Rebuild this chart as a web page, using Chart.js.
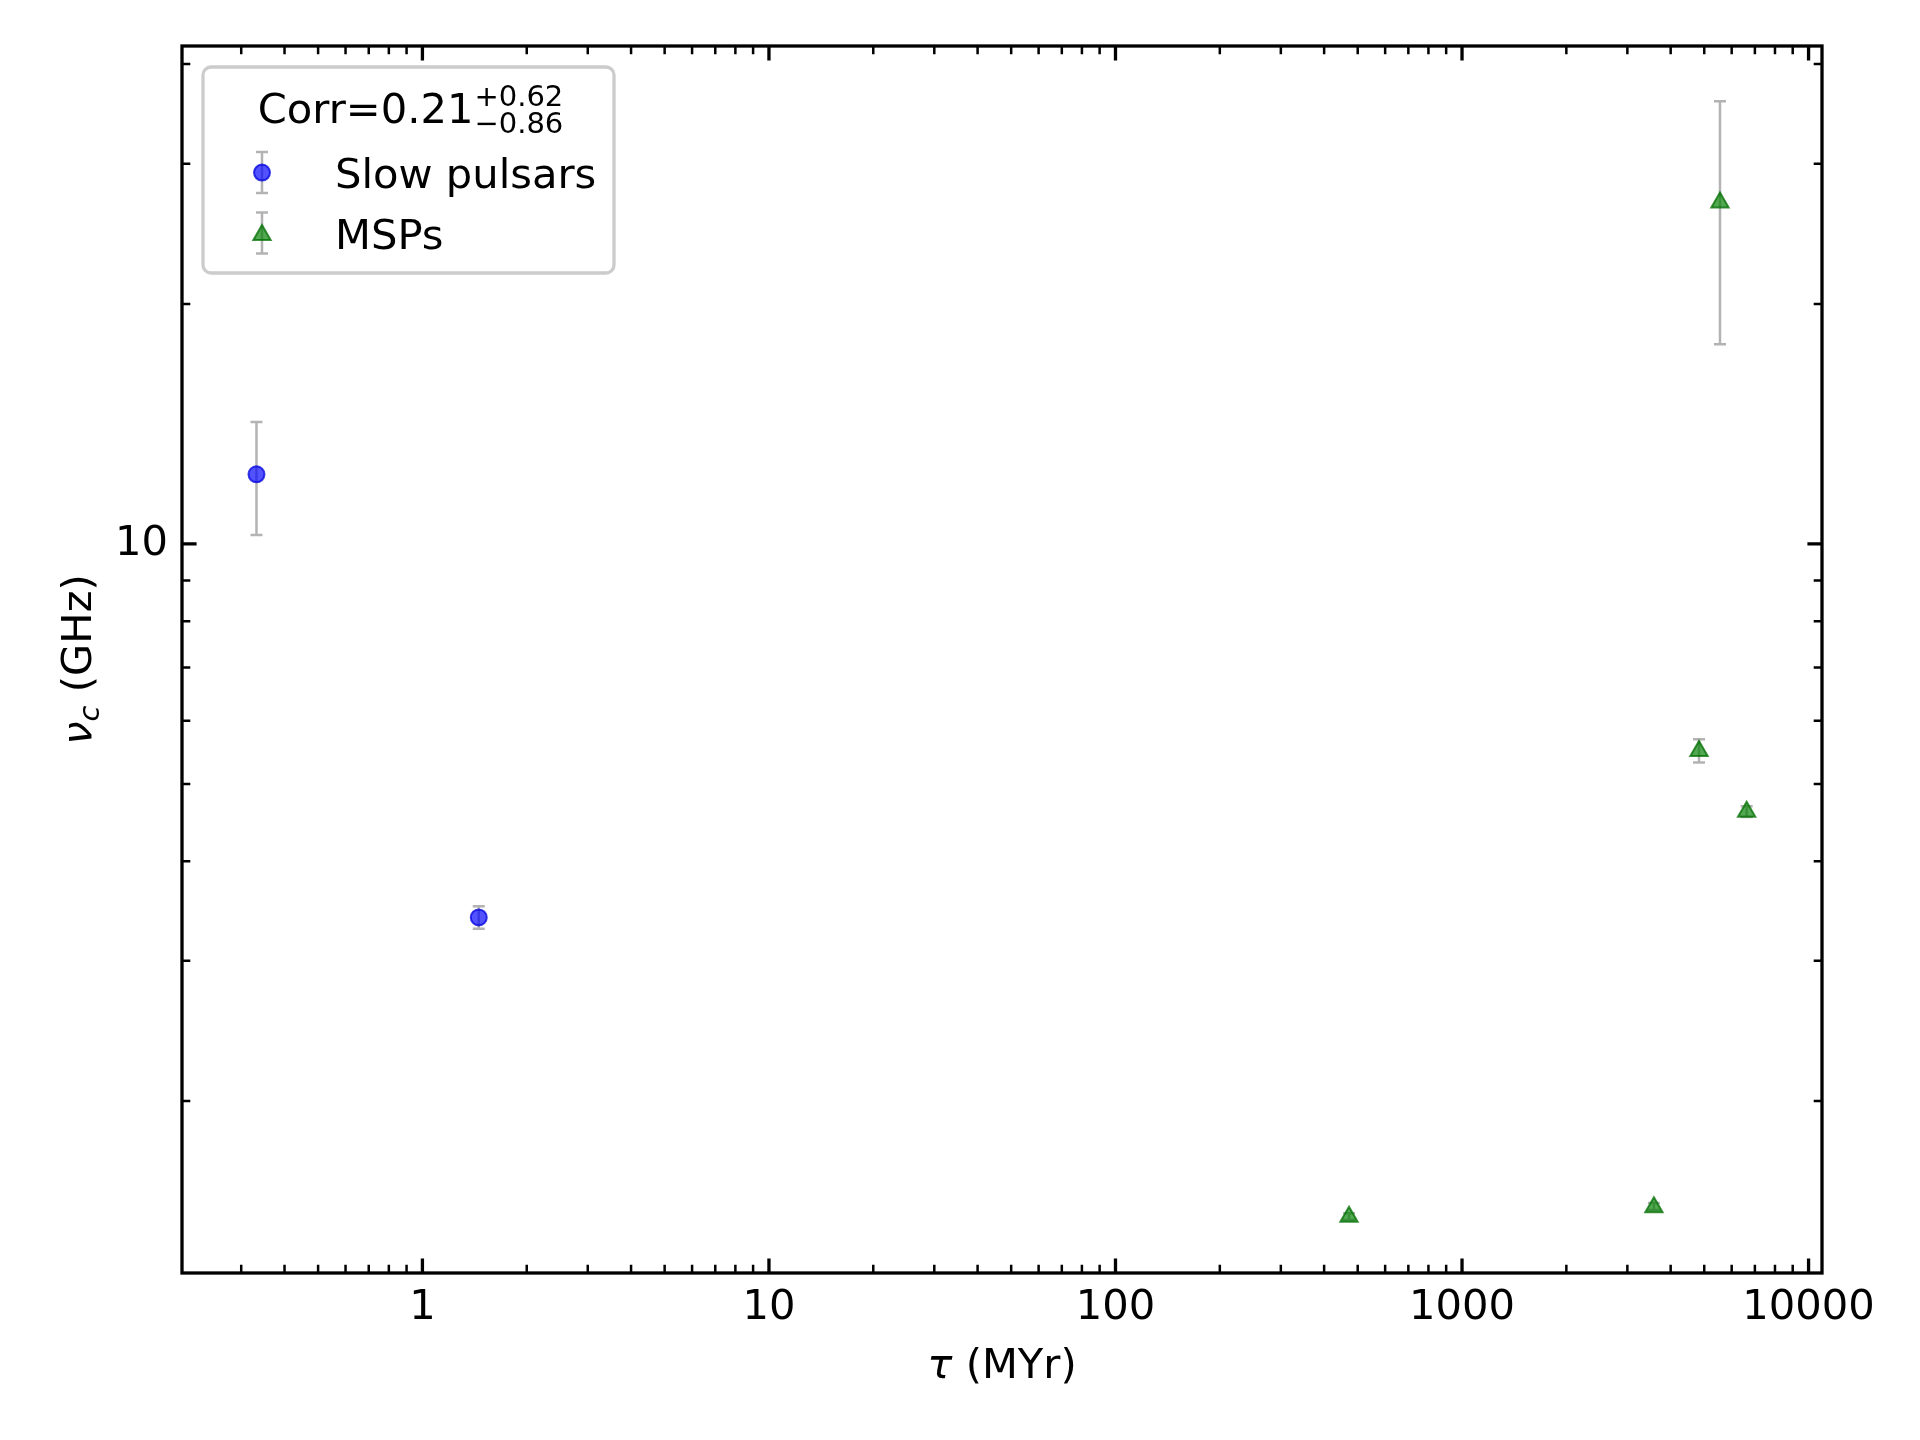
<!DOCTYPE html>
<html><head><meta charset="utf-8">
<script src="https://cdn.jsdelivr.net/npm/chart.js@4.4.1/dist/chart.umd.min.js"></script>
<style>html,body{margin:0;padding:0;background:#fff;} #wrap{width:1920px;height:1440px;}</style>
</head><body><div id="wrap"><canvas id="c" width="1920" height="1440"></canvas></div>
<script>
// ---- data ----
const slowTau = [0.332, 1.454];
const slowNu = [12.23, 3.40];
const slowNuLow = [10.26, 3.29];
const slowNuHigh = [14.22, 3.51];
const mspTau = [471.9, 3579, 4829, 6627, 5551];
const mspNu = [1.432, 1.472, 5.50, 4.615, 26.82];
const mspNuLow = [1.418, 1.46, 5.32, 4.545, 17.81];
const mspNuHigh = [1.446, 1.49, 5.69, 4.688, 35.94];
const xTickLabels = [1, 10, 100, 1000, 10000];
const yTickLabels = [10];
const xRange = [0.2024, 10934];
const yRange = [1.217, 42.15];
const seriesNames = ['Slow pulsars', 'MSPs'];
const corrTitle = {base: 'Corr=0.21', sup: '+0.62', sub: '\u22120.86'};
const xTitle = ['\u03C4', ' (MYr)'];
const yTitle = ['\u03BD', 'c', ' (GHz)'];

const FONT = 'DejaVu Sans';
const FS = 41.67;
const slowColor = 'rgba(0,0,255,0.68)';
const slowEdge = 'rgba(0,0,220,0.75)';
const mspColor = 'rgba(0,128,0,0.68)';
const mspEdge = 'rgba(0,110,0,0.75)';
const errColor = 'rgba(128,128,128,0.6)';

function pts(xs, ys) { return xs.map((x, i) => ({x: x, y: ys[i]})); }
function isLabel(v, list) { return list.some(t => Math.abs(v - t) / t < 1e-6); }

function logTicks(min, max) {
  const out = [];
  for (let e = Math.floor(Math.log10(min)); e <= Math.ceil(Math.log10(max)); e++) {
    for (let m = 1; m <= 9; m++) {
      const v = m * Math.pow(10, e);
      if (v >= min && v <= max) out.push({v: v, major: m === 1});
    }
  }
  return out;
}

const errorBars = {
  id: 'errorBars',
  beforeDatasetsDraw(chart) {
    const ctx = chart.ctx, ys = chart.scales.y;
    ctx.save();
    ctx.strokeStyle = errColor;
    ctx.lineWidth = 2.5;
    chart.data.datasets.forEach((ds, di) => {
      const meta = chart.getDatasetMeta(di);
      meta.data.forEach((p, i) => {
        const y1 = ys.getPixelForValue(ds.errLow[i]);
        const y2 = ys.getPixelForValue(ds.errHigh[i]);
        ctx.beginPath();
        ctx.moveTo(p.x, y1); ctx.lineTo(p.x, y2);
        ctx.moveTo(p.x - 6, y1); ctx.lineTo(p.x + 6, y1);
        ctx.moveTo(p.x - 6, y2); ctx.lineTo(p.x + 6, y2);
        ctx.stroke();
      });
    });
    ctx.restore();
  }
};

function roundRect(ctx, x, y, w, h, r) {
  ctx.beginPath();
  ctx.moveTo(x + r, y);
  ctx.lineTo(x + w - r, y); ctx.arcTo(x + w, y, x + w, y + r, r);
  ctx.lineTo(x + w, y + h - r); ctx.arcTo(x + w, y + h, x + w - r, y + h, r);
  ctx.lineTo(x + r, y + h); ctx.arcTo(x, y + h, x, y + h - r, r);
  ctx.lineTo(x, y + r); ctx.arcTo(x, y, x + r, y, r);
  ctx.closePath();
}

const decor = {
  id: 'decor',
  afterDraw(chart) {
    const ctx = chart.ctx, a = chart.chartArea;
    const xs = chart.scales.x, ys = chart.scales.y;
    ctx.save();
    // ticks on all four sides, pointing inward
    ctx.strokeStyle = '#000';
    logTicks(xRange[0], xRange[1]).forEach(t => {
      const px = xs.getPixelForValue(t.v);
      const len = t.major ? 14.6 : 8.3;
      ctx.lineWidth = t.major ? 3.3 : 2.5;
      ctx.beginPath();
      ctx.moveTo(px, a.bottom); ctx.lineTo(px, a.bottom - len);
      ctx.moveTo(px, a.top); ctx.lineTo(px, a.top + len);
      ctx.stroke();
    });
    logTicks(yRange[0], yRange[1]).forEach(t => {
      const py = ys.getPixelForValue(t.v);
      const len = t.major ? 14.6 : 8.3;
      ctx.lineWidth = t.major ? 3.3 : 2.5;
      ctx.beginPath();
      ctx.moveTo(a.left, py); ctx.lineTo(a.left + len, py);
      ctx.moveTo(a.right, py); ctx.lineTo(a.right - len, py);
      ctx.stroke();
    });
    // frame
    ctx.lineWidth = 3.3;
    ctx.strokeRect(a.left, a.top, a.right - a.left, a.bottom - a.top);

    // x axis title
    ctx.fillStyle = '#000';
    ctx.textBaseline = 'alphabetic';
    ctx.font = 'italic ' + FS + 'px "' + FONT + '"';
    const w0 = ctx.measureText(xTitle[0]).width;
    ctx.font = FS + 'px "' + FONT + '"';
    const w1 = ctx.measureText(xTitle[1]).width;
    let sx = (a.left + a.right) / 2 - (w0 + w1) / 2;
    const by = 1378;
    ctx.font = 'italic ' + FS + 'px "' + FONT + '"';
    ctx.textAlign = 'left';
    ctx.fillText(xTitle[0], sx, by);
    ctx.font = FS + 'px "' + FONT + '"';
    ctx.fillText(xTitle[1], sx + w0, by);

    // y axis title (rotated)
    ctx.save();
    ctx.translate(91, (a.top + a.bottom) / 2);
    ctx.rotate(-Math.PI / 2);
    const subFS = FS * 0.7;
    ctx.font = 'italic ' + FS + 'px "' + FONT + '"';
    const v0 = ctx.measureText(yTitle[0]).width;
    ctx.font = 'italic ' + subFS + 'px "' + FONT + '"';
    const v1 = ctx.measureText(yTitle[1]).width;
    ctx.font = FS + 'px "' + FONT + '"';
    const v2 = ctx.measureText(yTitle[2]).width;
    let yx = -(v0 + v1 + v2) / 2;
    ctx.font = 'italic ' + FS + 'px "' + FONT + '"';
    ctx.fillText(yTitle[0], yx, 0);
    ctx.font = 'italic ' + subFS + 'px "' + FONT + '"';
    ctx.fillText(yTitle[1], yx + v0, 8);
    ctx.font = FS + 'px "' + FONT + '"';
    ctx.fillText(yTitle[2], yx + v0 + v1, 0);
    ctx.restore();

    // legend
    const lx = a.left + 21, ly = a.top + 21, lw = 411, lh = 206;
    roundRect(ctx, lx, ly, lw, lh, 8);
    ctx.fillStyle = 'rgba(255,255,255,0.8)';
    ctx.fill();
    ctx.strokeStyle = '#cccccc';
    ctx.lineWidth = 3.3;
    ctx.stroke();

    // legend title with sup/sub
    const smallFS = 29;
    ctx.fillStyle = '#000';
    ctx.font = FS + 'px "' + FONT + '"';
    const tw = ctx.measureText(corrTitle.base).width;
    ctx.font = smallFS + 'px "' + FONT + '"';
    const sw = Math.max(ctx.measureText(corrTitle.sup).width, ctx.measureText(corrTitle.sub).width);
    const tx = lx + lw / 2 - (tw + 1 + sw) / 2 + 2;
    const tby = a.top + 77;
    ctx.font = FS + 'px "' + FONT + '"';
    ctx.fillText(corrTitle.base, tx, tby);
    ctx.font = smallFS + 'px "' + FONT + '"';
    ctx.fillText(corrTitle.sup, tx + tw + 1, tby - 17.5);
    ctx.fillText(corrTitle.sub, tx + tw + 1, tby + 10);

    // legend entries
    const hx = a.left + 80;
    const rows = [a.top + 126.6, a.top + 187];
    const ds = chart.data.datasets;
    rows.forEach((ry, i) => {
      ctx.strokeStyle = errColor;
      ctx.lineWidth = 2.5;
      ctx.beginPath();
      ctx.moveTo(hx, ry - 20.5); ctx.lineTo(hx, ry + 20.5);
      ctx.moveTo(hx - 6, ry - 20.5); ctx.lineTo(hx + 6, ry - 20.5);
      ctx.moveTo(hx - 6, ry + 20.5); ctx.lineTo(hx + 6, ry + 20.5);
      ctx.stroke();
      ctx.fillStyle = ds[i].backgroundColor;
      ctx.strokeStyle = ds[i].borderColor;
      ctx.lineWidth = ds[i].borderWidth;
      Chart.helpers.drawPoint(ctx, {pointStyle: ds[i].pointStyle, radius: ds[i].pointRadius, borderWidth: ds[i].borderWidth, rotation: 0}, hx, ry + (i === 1 ? 2 : 0));
      ctx.fillStyle = '#000';
      ctx.font = FS + 'px "' + FONT + '"';
      ctx.fillText(seriesNames[i], a.left + 153, ry + 15.5);
    });
    ctx.restore();
  }
};

Chart.defaults.font.family = FONT;
Chart.defaults.color = '#000';

new Chart(document.getElementById('c'), {
  type: 'scatter',
  data: {
    datasets: [
      {label: seriesNames[0], data: pts(slowTau, slowNu), errLow: slowNuLow, errHigh: slowNuHigh,
       pointStyle: 'circle', pointRadius: 8, backgroundColor: slowColor, borderColor: slowEdge, borderWidth: 2},
      {label: seriesNames[1], data: pts(mspTau, mspNu), errLow: mspNuLow, errHigh: mspNuHigh,
       pointStyle: 'triangle', pointRadius: 10, backgroundColor: mspColor, borderColor: mspEdge, borderWidth: 2}
    ]
  },
  options: {
    responsive: false, animation: false, devicePixelRatio: 1,
    layout: {padding: {top: 46, right: 98, left: 0, bottom: 0}},
    plugins: {legend: {display: false}, tooltip: {enabled: false}},
    scales: {
      x: {
        type: 'logarithmic', position: 'bottom', min: xRange[0], max: xRange[1],
        grid: {display: false, drawTicks: false}, border: {display: false},
        ticks: {autoSkip: false, maxRotation: 0, minRotation: 0, padding: 10, color: '#000',
          font: {family: FONT, size: FS},
          callback: (v) => isLabel(v, xTickLabels) ? String(Math.round(v)) : ''},
        afterFit(s) { s.height = 167; }
      },
      y: {
        type: 'logarithmic', position: 'left', min: yRange[0], max: yRange[1],
        grid: {display: false, drawTicks: false}, border: {display: false},
        ticks: {autoSkip: false, padding: 14, color: '#000',
          font: {family: FONT, size: FS},
          callback: (v) => isLabel(v, yTickLabels) ? String(Math.round(v)) : ''},
        afterFit(s) { s.width = 182; }
      }
    }
  },
  plugins: [errorBars, decor]
});
</script></body></html>
